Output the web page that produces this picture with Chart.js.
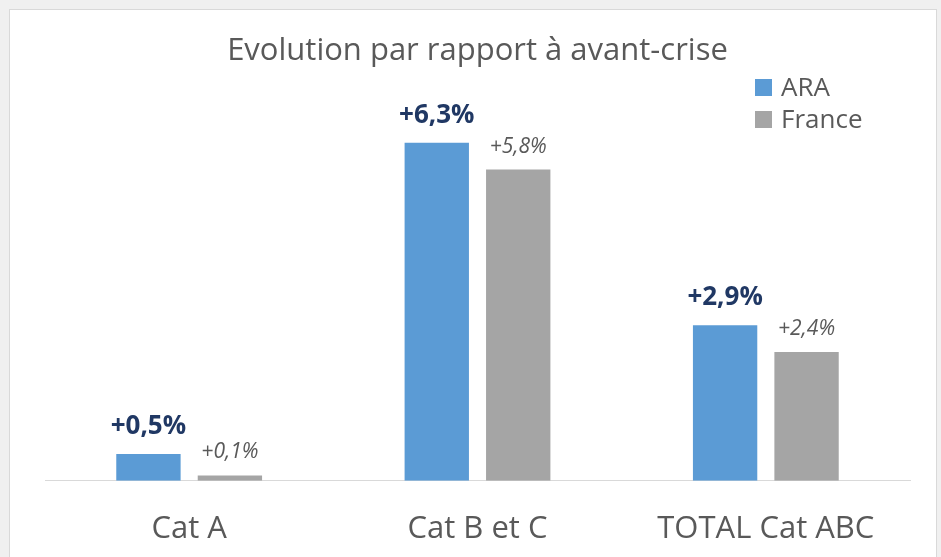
<!DOCTYPE html>
<html>
<head>
<meta charset="utf-8">
<script src="https://cdn.jsdelivr.net/npm/chart.js@4"></script>
<style>
  html, body { margin:0; padding:0; background:#f0f0f0; }
  #wrap { position:relative; width:941px; height:557px; overflow:hidden; }
  #frame { position:absolute; left:9px; top:9px; width:926px; height:560px; background:#fff; border:1px solid #d9d9d9; }
  #chart { position:absolute; left:0; top:0; }
</style>
</head>
<body>
<div id="wrap">
  <div id="frame"></div>
  <canvas id="chart" width="941" height="588"></canvas>
</div>
<script>
const categories = ['Cat A', 'Cat B et C', 'TOTAL Cat ABC'];
const araValues    = [0.5, 6.3, 2.9];
const franceValues = [0.1, 5.8, 2.4];
const seriesNames  = ['ARA', 'France'];
const FONT = '"Open Sans", sans-serif';

const fmt = v => '+' + v.toFixed(1).replace('.', ',') + '%';

const barLabels = {
  id: 'barLabels',
  afterDatasetsDraw(chart) {
    const ctx = chart.ctx;
    ctx.save();
    ctx.textAlign = 'center';
    ctx.textBaseline = 'alphabetic';
    chart.data.datasets.forEach((ds, i) => {
      chart.getDatasetMeta(i).data.forEach((bar, j) => {
        if (i === 0) {
          ctx.font = 'bold 26px ' + FONT;
          ctx.fillStyle = '#203864';
          ctx.fillText(fmt(ds.data[j]), bar.x, bar.y - 20);
        } else {
          ctx.font = 'italic 21px ' + FONT;
          ctx.fillStyle = '#595959';
          ctx.fillText(fmt(ds.data[j]), bar.x, bar.y - 17);
        }
      });
    });
    // legend
    ctx.textAlign = 'left';
    ctx.textBaseline = 'middle';
    ctx.font = '26px ' + FONT;
    chart.data.datasets.forEach((ds, i) => {
      const y = 87 + i * 32;
      ctx.fillStyle = ds.backgroundColor;
      ctx.fillRect(755, y - 8, 17, 17);
      ctx.fillStyle = '#595959';
      ctx.fillText(ds.label, 781, y + 2);
    });
    ctx.restore();
  }
};

new Chart(document.getElementById('chart').getContext('2d'), {
  type: 'bar',
  data: {
    labels: categories,
    datasets: [
      { label: seriesNames[0], data: araValues, backgroundColor: '#5b9bd5' },
      { label: seriesNames[1], data: franceValues, backgroundColor: '#a5a5a5' }
    ]
  },
  options: {
    responsive: false,
    animation: false,
    categoryPercentage: 0.565,
    barPercentage: 0.79,
    layout: { padding: { left: 45, right: 31, top: 0, bottom: 10 } },
    plugins: {
      legend: { display: false },
      tooltip: { enabled: false },
      title: {
        display: true,
        text: 'Evolution par rapport à avant-crise',
        color: '#595959',
        font: { family: FONT, size: 31, weight: 'normal' },
        padding: { top: 33, bottom: 35 }
      }
    },
    scales: {
      x: {
        grid: { display: false, drawTicks: false },
        border: { display: true, color: '#d9d9d9', width: 1 },
        ticks: { color: '#595959', font: { family: FONT, size: 31 }, padding: 30 }
      },
      y: { display: false, min: 0, max: 7 }
    }
  },
  plugins: [barLabels]
});
</script>
</body>
</html>
